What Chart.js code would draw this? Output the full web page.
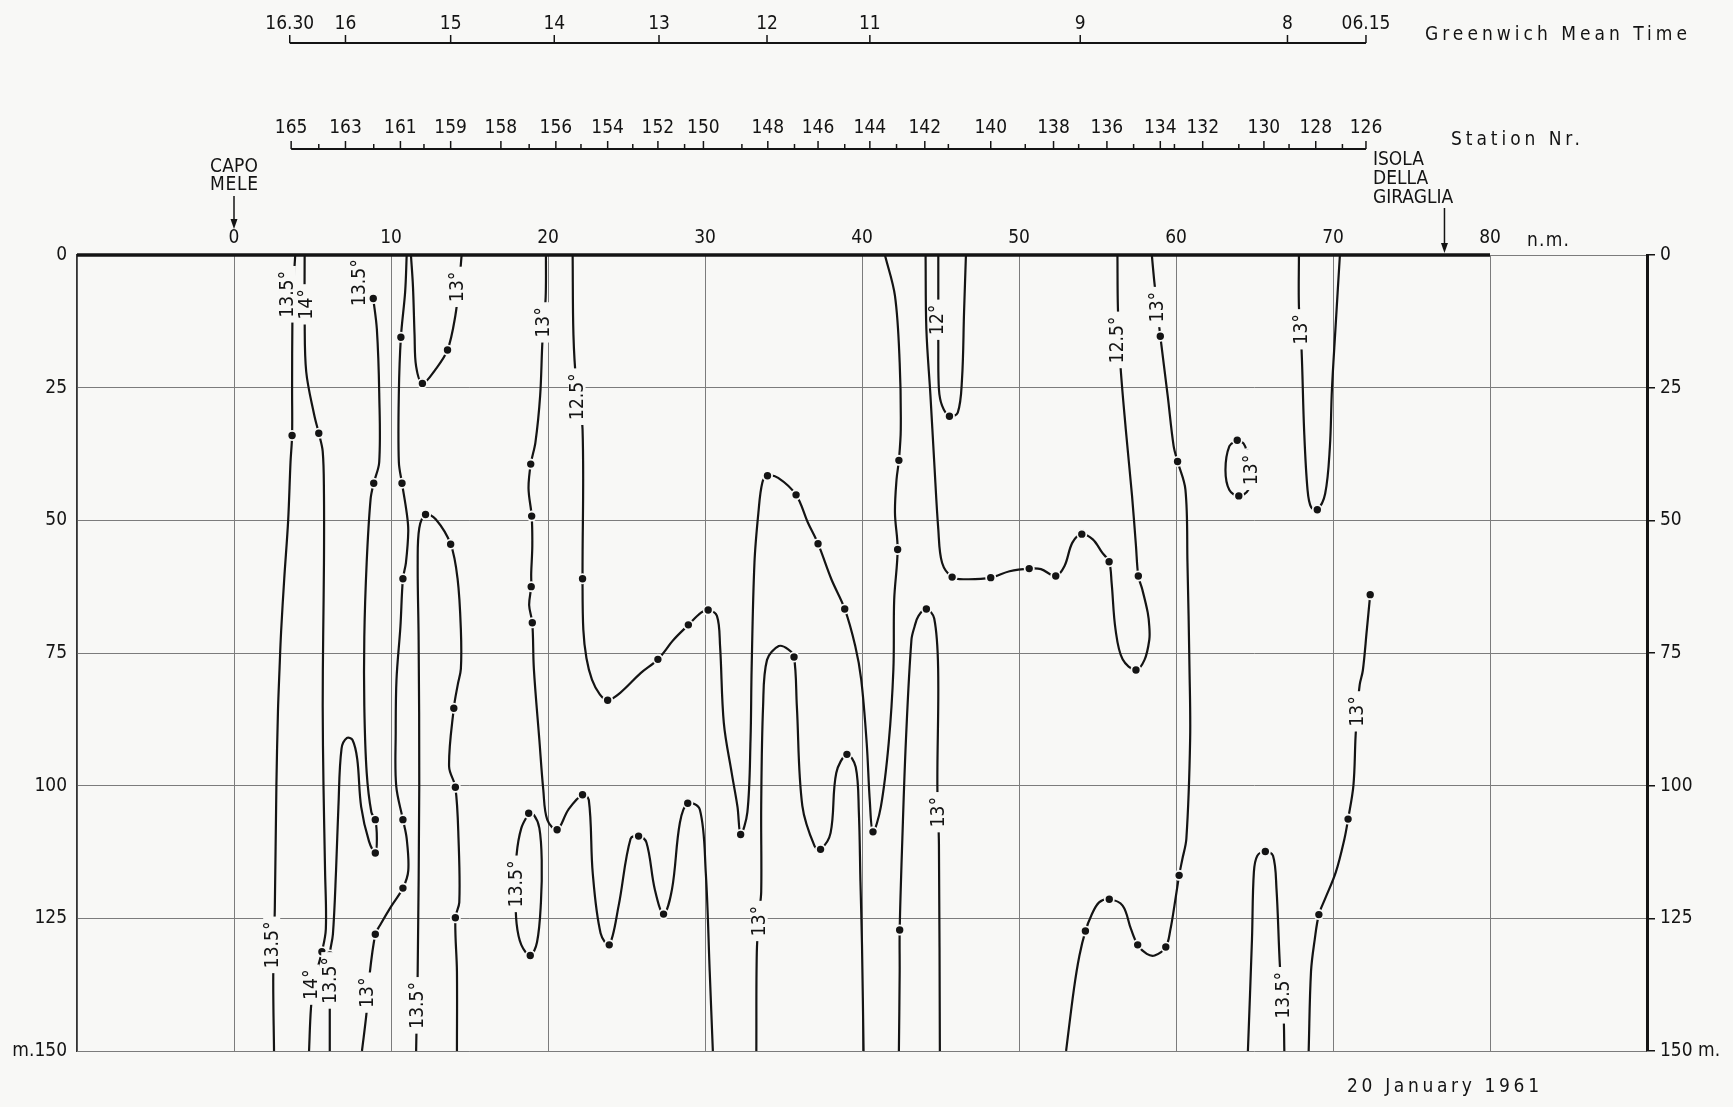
<!DOCTYPE html>
<html>
<head>
<meta charset="utf-8">
<title>Temperature section, 20 January 1961</title>
<script src="https://cdn.jsdelivr.net/npm/chart.js@4/dist/chart.umd.min.js"></script>
<style>
  html, body { margin: 0; padding: 0; background: #f8f8f6; }
  #wrap { width: 1733px; height: 1107px; }
</style>
</head>
<body>
<div id="wrap"><canvas id="id-section-chart" width="1733" height="1107"></canvas></div>
<script>
// axes: distance in n.m. (x), depth in m (y)
const nm_grid = [-10, 0, 10, 20, 30, 40, 50, 60, 70, 80, 90];
const depth_ticks = [0, 25, 50, 75, 100, 125, 150];

const station_nr = [165, 164, 163, 162, 161, 160, 159, 158, 157, 156, 155, 154, 153, 152, 151, 150, 149, 148, 147, 146,
                    145, 144, 143, 142, 141, 140, 139, 138, 137, 136, 135, 134, 133, 132, 131, 130, 129, 128, 127, 126];
const station_pos = [3.64, 5.4, 7.1, 8.9, 10.6, 12.1, 13.8, 17.0, 18.8, 20.5, 22.1, 23.8, 25.4, 27.0, 28.7, 29.9, 32.35, 34.0, 35.7, 37.2,
                     38.9, 40.5, 42.2, 44.0, 45.5, 48.2, 50.4, 52.2, 53.8, 55.6, 57.3, 59.0, 59.9, 61.7, 64.0, 65.6, 67.2, 68.9, 70.6, 72.1];
const station_labelled = [165, 163, 161, 159, 158, 156, 154, 152, 150, 148, 146, 144, 142, 140, 138, 136, 134, 132, 130, 128, 126];

const gmt_labels = ['16.30', '16', '15', '14', '13', '12', '11', '9', '8', '06.15'];
const gmt_pos = [3.55, 7.1, 13.8, 20.4, 27.07, 33.95, 40.5, 53.9, 67.1, 72.1];

// isotherms, [n.m., m]
const sea_surface = [[-10, 0], [80, 0]];

const iso_135_a = [[3.9,0],[3.78,6],[3.72,12],[3.7,25],[3.7,34],[3.6,39],[3.45,50],[3.2,61],[3.0,71],[2.9,78],[2.8,86],[2.7,100],[2.6,123],[2.5,136],[2.55,150]];
const iso_14_a = [[4.5,0],[4.5,12],[4.6,22],[5.1,30],[5.4,33.6],[5.65,37],[5.73,45],[5.73,58],[5.68,72],[5.65,85],[5.7,100],[5.8,116],[5.85,127],[5.6,131.3],[5.1,137],[4.9,142],[4.78,150]];
const iso_135_b = [[8.87,8.2],[9.1,14],[9.25,26],[9.25,39],[8.9,43],[8.7,46],[8.45,58],[8.3,72],[8.3,85],[8.45,97.5],[8.75,105],[9.0,106.4],[9.1,110],[9.0,112.7],[8.6,110.5],[8.1,104],[7.85,95],[7.55,91.4],[7.2,91],[6.85,93],[6.65,104],[6.5,116],[6.3,128],[6.1,131.9],[6.1,141],[6.1,150]];
const iso_13_a = [[11.0,0],[10.9,7],[10.63,15.5],[10.5,26],[10.5,39],[10.7,43],[11.0,48.6],[11.1,52],[10.95,58],[10.76,61],[10.6,70],[10.35,80],[10.3,90],[10.33,100],[10.76,106.4],[11.0,110],[11.1,116],[10.76,119.3],[10.0,122.8],[9.3,126.3],[9.0,128],[8.6,136.6],[8.45,142.6],[8.15,150]];
const iso_13_b = [[11.27,0],[11.4,6],[11.5,15],[11.6,21],[12.0,24.2],[12.85,21.5],[13.6,17.9],[14.1,11.4],[14.35,5],[14.5,0]];
const iso_135_c = [[11.6,150],[11.65,142],[11.7,135],[11.8,100],[11.76,72.5],[11.7,58],[11.8,51.5],[12.2,48.9],[12.85,49.8],[13.8,54.5],[14.24,61],[14.45,70.6],[14.45,78],[14.25,81],[14.0,85.4],[13.7,96.4],[14.1,100.3],[14.3,110],[14.35,122],[14.1,124.9],[14.2,135],[14.2,150]];
const iso_13_d = [[19.87,0],[19.85,8],[19.65,16],[19.5,26.5],[19.2,35.3],[18.9,39.4],[18.76,44],[18.96,49.2],[19.0,54.8],[18.93,60],[18.93,62.5],[18.8,66],[19.0,69.3],[19.1,78],[19.45,91.4],[19.7,100.8],[19.95,106.4],[20.58,108.3],[21.3,104.5],[22.2,101.7],[22.6,102.7],[22.85,116.5],[23.35,127.8],[23.9,130],[24.5,122.6],[25.26,110],[25.77,109.5],[26.27,110.7],[26.8,119.5],[27.36,124.2],[27.9,119.5],[28.4,107],[28.9,103.3],[29.67,104.5],[30.05,116.4],[30.3,135],[30.5,150]];
const iso_135_loop = [[18.77,105.2],[18.3,108],[18.0,113],[17.93,120],[18.0,126],[18.3,130],[18.87,132],[19.3,129.5],[19.55,122],[19.6,114],[19.45,108],[19.1,105.5],[18.77,105.2]];
const iso_125_a = [[21.57,0],[21.62,15],[21.8,24],[22.2,32.8],[22.2,61],[22.25,70.6],[22.45,76],[22.8,80],[23.3,82.8],[23.8,83.9],[24.6,82.5],[25.9,78.8],[27.0,76.2],[28.0,72.5],[28.94,69.7],[29.75,67.4],[30.2,66.9],[30.76,68],[30.96,73.7],[31.2,88.2],[31.7,97.6],[32.07,104],[32.27,109.2],[32.7,105],[32.9,91.3],[32.97,78],[33.15,58],[33.4,48.6],[33.65,42.9],[33.98,41.6],[34.66,42],[35.8,45.2],[36.55,50.4],[37.2,54.4],[38.05,61.1],[38.9,66.7],[39.57,73.7],[39.95,80],[40.3,92],[40.5,103],[40.7,108.7],[41.2,104],[41.7,92],[42.0,78],[42.05,65],[42.27,55.5],[42.1,48.6],[42.2,42.3],[42.35,38.7],[42.47,32.8],[42.4,20.3],[42.1,7.7],[41.46,0]];
const iso_13_e = [[33.27,150],[33.3,131.4],[33.45,124],[33.58,120],[33.58,103.8],[33.7,85],[33.95,76.3],[34.7,73.7],[35.3,74.3],[35.67,75.75],[35.85,85],[36.2,103.8],[36.98,111.4],[37.36,112],[38.0,108.9],[38.36,97.6],[39.04,94.1],[39.6,96.5],[39.8,105],[39.9,118],[40.0,130],[40.1,150]];
const iso_13_f = [[42.35,150],[42.4,135],[42.4,127.2],[42.57,110],[42.8,91.3],[43.15,72.5],[43.35,70],[43.6,68],[44.1,66.7],[44.6,68.5],[44.85,78],[44.8,100],[44.9,111],[44.96,150]];
const iso_12 = [[44.86,0],[44.86,8],[44.86,17],[44.9,25.3],[45.1,28.4],[45.57,30.4],[46.1,29.7],[46.37,23.4],[46.5,10.8],[46.62,0]];
const iso_125_b = [[44.05,0],[44.1,14],[44.36,26.5],[44.6,39],[44.86,51.7],[45.1,58],[45.74,60.7],[46.6,61.1],[48.2,60.8],[49.4,59.6],[50.65,59.1],[51.4,59.2],[52.34,60.5],[52.9,58.6],[53.4,54.2],[54.0,52.6],[54.7,53.6],[55.3,56.1],[55.74,57.8],[55.9,61.8],[56.15,70.6],[56.6,76.2],[57.45,78.2],[58.0,76.25],[58.3,72.5],[58.3,70],[58.2,67.4],[57.85,63],[57.6,60.5],[57.45,54.8],[57.2,45.4],[56.8,32.8],[56.45,20.3],[56.3,10],[56.27,0]];
const iso_13_g = [[58.46,0],[58.6,4.5],[58.8,10],[59.0,15.3],[59.47,26.5],[59.85,36],[60.1,38.9],[60.6,44.2],[60.73,58],[60.86,78],[60.9,91.3],[60.66,110],[60.4,113.9],[60.2,116.9],[59.9,122.6],[59.65,127],[59.35,130.4],[58.64,132],[58.14,131.7],[57.56,130],[57.13,127],[56.6,122.6],[55.75,121.4],[55.1,122],[54.6,124.5],[54.23,127.4],[53.85,132],[53.5,138.3],[53.0,150]];
const iso_13_loop = [[63.9,34.9],[63.4,36],[63.15,40.5],[63.4,44.3],[64.0,45.4],[64.6,44.3],[64.85,40.5],[64.55,37.4],[64.3,35.5],[63.9,34.9]];
const iso_13_h = [[67.83,0],[67.83,9.7],[68.0,18],[68.16,33],[68.38,44.3],[68.6,47.5],[69.0,48],[69.5,45],[69.8,36.2],[69.93,25.5],[70.15,14.2],[70.44,0]];
const iso_13_i = [[72.37,64],[72.15,70.8],[71.9,78.3],[71.7,81],[71.55,86],[71.44,90.6],[71.3,100],[70.96,106.3],[70.73,110],[70.18,116.3],[69.5,121.3],[69.1,124.3],[68.84,128.9],[68.6,135],[68.45,150]];
const iso_135_f = [[64.58,150],[64.84,128.9],[64.96,116.3],[65.18,113.2],[65.69,112.4],[66.18,113.2],[66.4,119.4],[66.62,134],[66.85,143],[66.9,150]];

const isotherms = [iso_135_a, iso_14_a, iso_135_b, iso_13_a, iso_13_b, iso_135_c, iso_13_d, iso_135_loop, iso_125_a, iso_13_e,
                   iso_13_f, iso_12, iso_125_b, iso_13_g, iso_13_loop, iso_13_h, iso_13_i, iso_135_f];

// observations on the isotherms
const station_dots = [[3.7,34],[5.4,33.6],[5.6,131.3],[8.87,8.2],[8.9,43],[9.0,106.4],[9.0,112.7],[6.1,131.9],[10.63,15.5],[10.7,43],
  [10.76,61],[10.76,106.4],[10.76,119.3],[9.0,128],[12.0,24.2],[13.6,17.9],[12.2,48.9],[13.8,54.5],[14.0,85.4],[14.1,100.3],
  [14.1,124.9],[18.9,39.4],[18.96,49.2],[18.93,62.5],[19.0,69.3],[20.58,108.3],[22.2,101.7],[23.9,130],[25.77,109.5],[27.36,124.2],
  [28.9,103.3],[18.77,105.2],[18.87,132],[22.2,61],[23.8,83.9],[27.0,76.2],[28.94,69.7],[30.2,66.9],[32.27,109.2],[33.98,41.6],
  [35.8,45.2],[37.2,54.4],[38.9,66.7],[40.7,108.7],[42.27,55.5],[42.35,38.7],[35.67,75.75],[37.36,112],[39.04,94.1],[42.4,127.2],
  [44.1,66.7],[45.57,30.4],[45.74,60.7],[48.2,60.8],[50.65,59.1],[52.34,60.5],[54.0,52.6],[55.74,57.8],[57.45,78.2],[57.6,60.5],
  [59.0,15.3],[60.1,38.9],[60.2,116.9],[59.35,130.4],[57.56,130],[55.75,121.4],[54.23,127.4],[63.9,34.9],[64.0,45.4],[64.55,37.4],
  [69.0,48],[72.37,64],[70.96,106.3],[69.1,124.3],[65.69,112.4]];

const iso_labels = [
  ['13.5°', 3.4, 7.4], ['14°', 4.6, 9.3], ['13.5°', 7.95, 5.2], ['13°', 14.2, 6.0], ['13°', 19.7, 12.7],
  ['12.5°', 21.85, 26.7], ['12°', 44.8, 12.2], ['12.5°', 56.25, 16], ['13°', 58.8, 9.8], ['13°', 64.8, 40.5],
  ['13°', 67.95, 14], ['13°', 71.55, 86], ['13.5°', 2.4, 130], ['14°', 4.9, 137.5], ['13.5°', 6.1, 136.7],
  ['13°', 8.5, 139], ['13.5°', 11.65, 141.4], ['13.5°', 17.95, 118.5], ['13°', 33.45, 125.5], ['13°', 44.85, 105],
  ['13.5°', 66.8, 139.5]
];

const FONT = "'DejaVu Sans Condensed', 'Liberation Sans Narrow', 'DejaVu Sans', sans-serif";
const INK = '#141414';
const BG = '#f8f8f6';
const GRID = '#7c7c7c';

function ToPoints(pairs)
{
  return pairs.map(p => ({ x: p[0], y: p[1] }));
}

function SpacedText(ctx, text, x, y, width, align)
{
  ctx.letterSpacing = '0px';
  const plain = ctx.measureText(text).width;
  const gap = text.length > 1 ? Math.max(0, (width - plain) / (text.length - 1)) : 0;
  ctx.letterSpacing = gap + 'px';
  const w = plain + gap * (text.length - 1);
  let left = x;
  if (align === 'center') left = x - w / 2;
  ctx.textAlign = 'left';
  ctx.fillText(text, left, y);
  ctx.letterSpacing = '0px';
}

function Arrow(ctx, x, y0, y1)
{
  ctx.beginPath();
  ctx.moveTo(x, y0);
  ctx.lineTo(x, y1 - 8);
  ctx.stroke();
  ctx.beginPath();
  ctx.moveTo(x - 3.5, y1 - 10);
  ctx.lineTo(x + 3.5, y1 - 10);
  ctx.lineTo(x, y1);
  ctx.closePath();
  ctx.fill();
}

const backgroundPlugin =
{
  id: 'paper',
  beforeDraw(chart)
  {
    const ctx = chart.ctx;
    ctx.save();
    ctx.fillStyle = BG;
    ctx.fillRect(0, 0, chart.width, chart.height);
    ctx.restore();
  }
};

const labelPlugin =
{
  id: 'isoLabels',
  afterDatasetsDraw(chart)
  {
    const ctx = chart.ctx;
    const xs = chart.scales.x, ys = chart.scales.y;
    const area = chart.chartArea;
    ctx.save();
    // keep the label boxes off the sea surface line
    ctx.beginPath();
    ctx.rect(area.left, area.top + 2.5, area.right - area.left, area.bottom - area.top);
    ctx.clip();
    ctx.font = '19px ' + FONT;
    ctx.textBaseline = 'middle';
    ctx.textAlign = 'center';
    iso_labels.forEach(([text, nm, depth]) =>
    {
      const px = xs.getPixelForValue(nm);
      const py = ys.getPixelForValue(depth);
      const w = ctx.measureText(text).width;
      ctx.save();
      ctx.translate(px, py);
      ctx.rotate(-Math.PI / 2);
      ctx.fillStyle = BG;
      ctx.fillRect(-w / 2 - 5, -8.5, w + 10, 17);
      ctx.fillStyle = INK;
      ctx.fillText(text, 0, 1);
      ctx.restore();
    });
    ctx.restore();
  }
};

function DrawTopAxis(ctx, scale, positions, labelled)
{
  const y = scale.bottom;
  const first = scale.getPixelForValue(Math.min(...positions));
  const last = scale.getPixelForValue(Math.max(...positions));
  ctx.beginPath();
  ctx.moveTo(first, y);
  ctx.lineTo(last, y);
  ctx.lineWidth = 2;
  ctx.stroke();
  ctx.lineWidth = 1.5;
  positions.forEach((v, i) =>
  {
    const px = scale.getPixelForValue(v);
    ctx.beginPath();
    ctx.moveTo(px, y);
    ctx.lineTo(px, y - (labelled[i] ? 8 : 5));
    ctx.stroke();
  });
}

const decorPlugin =
{
  id: 'decor',
  afterDraw(chart)
  {
    const ctx = chart.ctx;
    const xs = chart.scales.x;
    ctx.save();
    ctx.strokeStyle = INK;
    ctx.fillStyle = INK;

    DrawTopAxis(ctx, chart.scales.station, station_pos, station_nr.map(n => station_labelled.includes(n)));
    DrawTopAxis(ctx, chart.scales.gmt, gmt_pos, gmt_pos.map(() => true));

    ctx.textBaseline = 'middle';
    ctx.font = '19px ' + FONT;
    SpacedText(ctx, 'Greenwich Mean Time', 1425, 35, 262, 'left');
    SpacedText(ctx, 'Station Nr.', 1451, 140, 129, 'left');
    SpacedText(ctx, '20 January 1961', 1443, 1087, 192, 'center');
    SpacedText(ctx, 'n.m.', 1527, 241, 42, 'left');

    // place names with arrows
    const x0 = xs.getPixelForValue(0);
    SpacedText(ctx, 'CAPO', x0, 167, 48, 'center');
    SpacedText(ctx, 'MELE', x0, 185, 48, 'center');
    ctx.lineWidth = 1.5;
    Arrow(ctx, x0, 196, 229);

    const xi = xs.getPixelForValue(72.1) + 7;
    SpacedText(ctx, 'ISOLA', xi, 160, 48, 'left');
    SpacedText(ctx, 'DELLA', xi, 179, 50, 'left');
    SpacedText(ctx, 'GIRAGLIA', xi, 198, 80, 'left');
    Arrow(ctx, xs.getPixelForValue(77.1), 208, 253);
    ctx.restore();
  }
};

const datasets = isotherms.map(line => (
{
  data: ToPoints(line),
  showLine: true,
  borderColor: INK,
  borderWidth: 2.2,
  pointRadius: 0,
  tension: 0.35,
  fill: false,
  order: 2
}));

datasets.push(
{
  data: ToPoints(sea_surface),
  showLine: true,
  borderColor: INK,
  borderWidth: 3.5,
  pointRadius: 0,
  tension: 0,
  clip: false,
  order: 1
});

datasets.push(
{
  data: ToPoints(station_dots),
  showLine: false,
  pointRadius: 4.6,
  pointBackgroundColor: INK,
  pointBorderColor: BG,
  pointBorderWidth: 1.8,
  order: 0
});

const tickFont = { family: FONT, size: 19 };

const config_section =
{
  type: 'scatter',
  data: { datasets: datasets },
  options:
  {
    responsive: false,
    animation: false,
    events: [],
    layout: { padding: { left: 0, right: 0, top: 0, bottom: 56 } },
    plugins: { legend: { display: false }, tooltip: { enabled: false } },
    scales:
    {
      x:
      {
        type: 'linear', position: 'top', min: -10, max: 90, weight: 0,
        afterBuildTicks: s => { s.ticks = nm_grid.map(v => ({ value: v })); },
        afterFit: s => { s.height = 106; },
        ticks: { callback: v => (v < 0 || v > 80) ? '' : String(v), padding: 6, maxRotation: 0, autoSkip: false, color: INK, font: tickFont },
        grid: { color: GRID, lineWidth: 1, drawTicks: false },
        border: { color: GRID, width: 1 }
      },
      station:
      {
        type: 'linear', position: 'top', min: -10, max: 90, weight: 1,
        afterBuildTicks: s => { s.ticks = station_pos.map(v => ({ value: v })); },
        afterFit: s => { s.height = 106; },
        ticks: { callback: (v, i) => station_labelled.includes(station_nr[i]) ? String(station_nr[i]) : '', padding: 10, maxRotation: 0, autoSkip: false, color: INK, font: tickFont },
        grid: { display: false, drawTicks: false },
        border: { display: false }
      },
      gmt:
      {
        type: 'linear', position: 'top', min: -10, max: 90, weight: 2,
        afterBuildTicks: s => { s.ticks = gmt_pos.map(v => ({ value: v })); },
        afterFit: s => { s.height = 43; },
        ticks: { callback: (v, i) => gmt_labels[i], padding: 8, maxRotation: 0, autoSkip: false, color: INK, font: tickFont },
        grid: { display: false, drawTicks: false },
        border: { display: false }
      },
      y:
      {
        type: 'linear', position: 'left', reverse: true, min: 0, max: 150,
        afterBuildTicks: s => { s.ticks = depth_ticks.map(v => ({ value: v })); },
        afterFit: s => { s.width = 77; },
        ticks: { callback: v => v === 150 ? 'm.150' : String(v), padding: 10, color: INK, font: tickFont },
        grid: { color: GRID, lineWidth: 1, drawTicks: false },
        border: { color: '#333333', width: 1.5 }
      },
      y2:
      {
        type: 'linear', position: 'right', reverse: true, min: 0, max: 150,
        afterBuildTicks: s => { s.ticks = depth_ticks.map(v => ({ value: v })); },
        afterFit: s => { s.width = 86; },
        ticks: { callback: v => v === 150 ? '150 m.' : String(v), padding: 5, color: INK, font: tickFont },
        grid: { drawOnChartArea: false, drawTicks: true, tickLength: 8, color: INK, lineWidth: 1.5 },
        border: { color: INK, width: 3 }
      }
    }
  },
  plugins: [backgroundPlugin, labelPlugin, decorPlugin]
};

let section_chart;

document.addEventListener('DOMContentLoaded', function()
{
  const ctx = document.getElementById('id-section-chart').getContext('2d');
  section_chart = new Chart(ctx, config_section);
});
</script>
</body>
</html>
